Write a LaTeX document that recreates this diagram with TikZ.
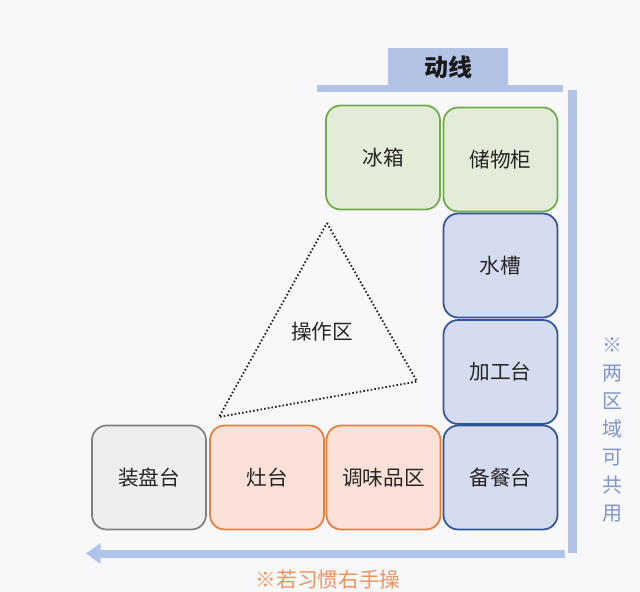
\documentclass[tikz,border=0pt]{standalone}
\usepackage{fontspec}
\usetikzlibrary{arrows.meta}
\setmainfont{Noto Sans CJK SC}
\begin{document}
\begin{tikzpicture}[x=0.75pt,y=-0.75pt,
  cell/.style={draw, line width=1.3pt, rounded corners=11pt, minimum width=85.5pt, minimum height=78pt, inner sep=0pt, font=\fontsize{15.5}{17}\selectfont, text=black!85},
  gcell/.style={cell, draw=green60, fill=greenfill},
  bcell/.style={cell, draw=blue60, fill=bluefill},
  ocell/.style={cell, draw=orange60, fill=orangefill},
  ecell/.style={cell, draw=gray60, fill=grayfill},
  bar/.style={fill=barblue, draw=none}]
\definecolor{bg}{HTML}{F8F7FA}
\definecolor{green60}{HTML}{6FAB46}
\definecolor{greenfill}{HTML}{E3ECD8}
\definecolor{blue60}{HTML}{2F5597}
\definecolor{bluefill}{HTML}{D6DCF0}
\definecolor{orange60}{HTML}{EB7D3A}
\definecolor{orangefill}{HTML}{FBE1D7}
\definecolor{gray60}{HTML}{808080}
\definecolor{grayfill}{HTML}{EEEEF1}
\definecolor{barblue}{HTML}{B3C3E5}
\definecolor{arrowblue}{HTML}{AFC4EA}
\definecolor{sidetext}{HTML}{7F96C6}
\definecolor{bottomtext}{HTML}{EF935D}
\fill[bg] (0,0) rectangle (640,592);
\useasboundingbox (0,0) rectangle (640,592);
% top tab and bars
\fill[bar] (388,48) rectangle (508,86);
\fill[bar] (317,85) rectangle (563,92.5);
\node[font=\fontsize{18}{20}\selectfont\bfseries, text=black!90] (dx) at (448,67) {动线};
\fill[bar] (568,90) rectangle (577,553);
% bottom arrow
\coordinate (ae) at (565,553.5);
\coordinate (at) at (86,553.5);
\draw[arrowblue, line width=6pt, -{Triangle[length=11pt,width=15pt]}] (ae) -- (at);
% boxes
\node[gcell] (bx) at (383,157.5) {冰箱};
\node[gcell] (cwg) at (500.5,159.5) {储物柜};
\node[bcell] (sc) at (500.5,265.5) {水槽};
\node[bcell] (jgt) at (500.5,372) {加工台};
\node[bcell] (bct) at (500.5,477.5) {备餐台};
\node[ecell] (zpt) at (149,477.5) {装盘台};
\node[ocell] (zt) at (267,477.5) {灶台};
\node[ocell] (twp) at (383.5,477.5) {调味品区};
% triangle
\coordinate (t1) at (327,223);
\coordinate (t2) at (417,381.5);
\coordinate (t3) at (219,417);
\draw[line width=1.4pt, black!85, dash pattern=on 1.2pt off 1.6pt] (t1) -- (t2) -- (t3) -- cycle;
\node[font=\fontsize{15.5}{17}\selectfont, text=black!85] (czq) at (322,332) {操作区};
% texts
\node[font=\fontsize{15.5}{17}\selectfont, text=bottomtext] (bt) at (328,580) {※若习惯右手操};
\node[font=\fontsize{15}{21}\selectfont, text=sidetext, align=center, inner sep=0pt] (st) at (612,430) {※\\两\\区\\域\\可\\共\\用};
\end{tikzpicture}
\end{document}
